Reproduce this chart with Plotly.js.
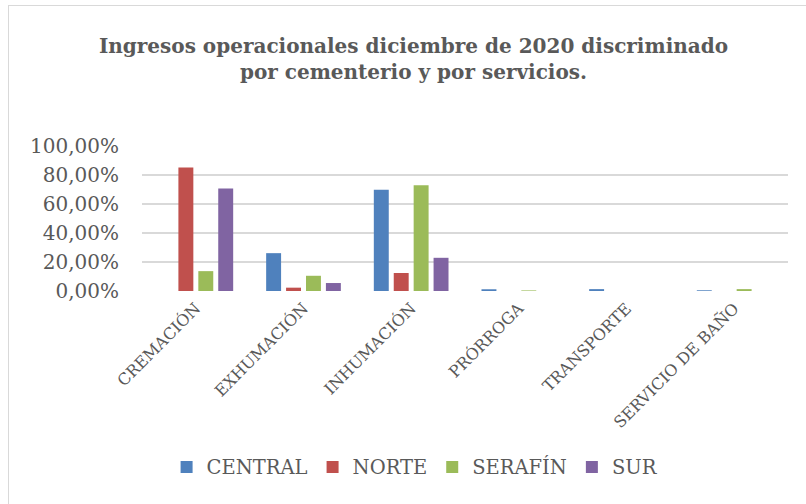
<!DOCTYPE html>
<html>
<head>
<meta charset="utf-8">
<script src="https://cdn.plot.ly/plotly-3.0.1.min.js"></script>
<style>
  html, body { margin: 0; padding: 0; background: #fff; }
  #chart { width: 806px; height: 504px; position: absolute; left: 0; top: 0; }
  #frame { position: absolute; left: 8px; top: 5px; width: 798px; height: 499px;
           border-left: 1px solid #d9d9d9; border-top: 1px solid #d9d9d9; pointer-events: none; }
</style>
</head>
<body>
<div id="chart"></div>
<div id="frame"></div>
<script>
const categories = ["CREMACIÓN", "EXHUMACIÓN", "INHUMACIÓN", "PRÓRROGA", "TRANSPORTE", "SERVICIO DE BAÑO"];
const central = [0.000, 0.261, 0.698, 0.012, 0.013, 0.005];
const norte   = [0.852, 0.023, 0.124, 0.000, 0.000, 0.000];
const serafin = [0.137, 0.105, 0.730, 0.004, 0.000, 0.013];
const sur     = [0.707, 0.055, 0.229, 0.000, 0.000, 0.000];
const seriesNames = ["CENTRAL", "NORTE", "SERAFÍN", "SUR"];
const colors = ["#4f81bd", "#c0504d", "#9bbb59", "#8064a2"];
const yTicks = [0, 0.2, 0.4, 0.6, 0.8, 1.0];

const serif = "'DejaVu Serif', serif";
const values = [central, norte, serafin, sur];
const traces = values.map((v, i) => ({
  type: "bar",
  name: seriesNames[i],
  x: categories,
  y: v,
  marker: { color: colors[i] },
  hoverinfo: "x+y+name"
}));

const layout = {
  width: 806,
  height: 504,
  paper_bgcolor: "#ffffff",
  plot_bgcolor: "#ffffff",
  separators: ", ",
  margin: { l: 142, r: 18, t: 146, b: 213, pad: 0 },
  barmode: "group",
  bargap: 0.26,
  bargroupgap: 0.25,
  title: {
    text: "<b>Ingresos operacionales diciembre de 2020 discriminado<br>por cementerio y por servicios.</b>",
    font: { family: serif, size: 20, color: "#595959" },
    x: 0.513, xref: "container", xanchor: "center",
    y: 0.895, yref: "container", yanchor: "top"
  },
  xaxis: {
    type: "category",
    tickangle: -45,
    tickfont: { family: serif, size: 16, color: "#595959" },
    showgrid: false,
    showline: false,
    ticks: "",
    ticklabelstandoff: 4,
    automargin: false
  },
  yaxis: {
    range: [0, 1],
    tickvals: yTicks,
    tickformat: ".2%",
    tickfont: { family: serif, size: 20, color: "#595959" },
    gridcolor: "#d9d9d9",
    gridwidth: 2,
    zeroline: false,
    showline: false,
    ticks: "",
    ticklabelstandoff: 22,
    automargin: false
  },
  legend: {
    orientation: "h",
    x: 0.515, xref: "container", xanchor: "center",
    y: 0.073, yref: "container", yanchor: "middle",
    font: { family: serif, size: 19.5, color: "#595959" },
    itemwidth: 20,
    traceorder: "normal"
  },
  showlegend: true
};

Plotly.newPlot("chart", traces, layout, { displayModeBar: false, staticPlot: true });
</script>
</body>
</html>
